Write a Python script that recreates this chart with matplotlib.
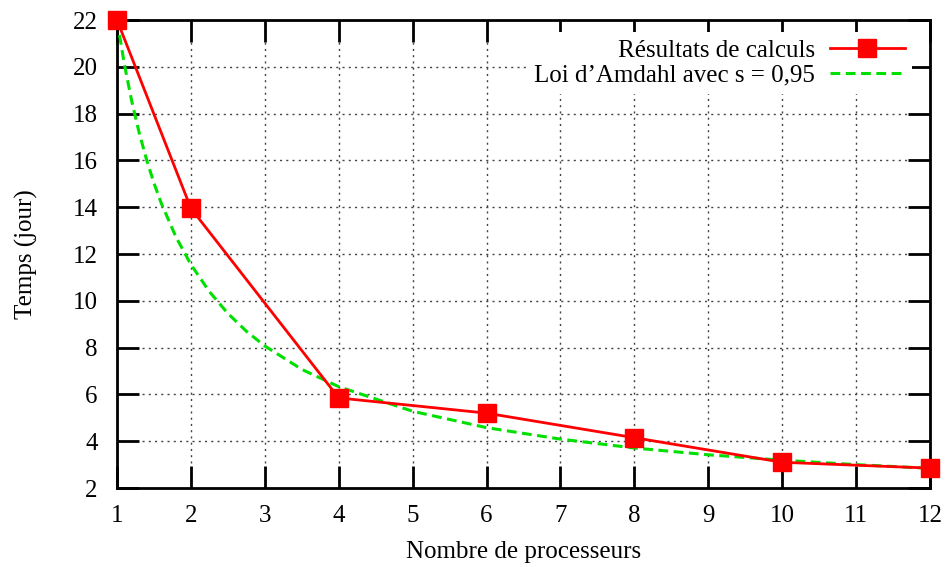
import matplotlib.pyplot as plt

plt.rcParams['font.family'] = ['Liberation Serif', 'DejaVu Serif']

# Résultats de calculs
procs = [1, 2, 4, 6, 8, 10, 12]
temps = [22.0, 13.95, 5.85, 5.2, 4.15, 3.1, 2.85]

# Loi d'Amdahl
n_amdahl = [1, 1.1, 1.2, 1.3, 1.4, 1.5, 1.6, 1.8, 2, 2.25, 2.5, 2.75, 3, 3.5,
            4, 5, 6, 7, 8, 9, 10, 11, 12]
t_amdahl = [22.0, 20.10, 18.52, 17.18, 16.03, 15.03, 14.16, 12.71, 11.55,
            10.39, 9.46, 8.70, 8.07, 7.07, 6.33, 5.28, 4.58, 4.09, 3.71,
            3.42, 3.19, 3.0, 2.84]

xticks = list(range(1, 13))
yticks = list(range(2, 23, 2))

fig = plt.figure(figsize=(9.46, 5.67), dpi=100)
ax = fig.add_axes([0.1237, 0.1393, 0.8594, 0.8254])

ax.plot(procs, temps, '-', color='#ff0000', lw=2, marker='s', ms=13,
        mec='#ff0000', mfc='#ff0000', label='Résultats de calculs', zorder=4,
        clip_on=False)
ax.plot(n_amdahl, t_amdahl, '--', color='#00e000', lw=2.2, dashes=(3.2, 1.8),
        label='Loi d\u2019Amdahl avec s = 0,95', zorder=3)

ax.set_xlim(1, 12)
ax.set_ylim(2, 22)
ax.set_xticks(xticks)
ax.set_yticks(yticks)
ax.tick_params(direction='in', length=16, width=2, labelsize=18,
               top=True, right=True, pad=14)
ax.tick_params(axis='x', pad=12)
for s in ax.spines.values():
    s.set_linewidth(2)

ax.grid(True, color='#444444', linestyle=(0, (1.5, 3)), lw=1)
ax.set_axisbelow(True)

ax.set_xlabel('Nombre de processeurs', fontsize=18, labelpad=10)
ax.set_ylabel('Temps (jour)', fontsize=18, labelpad=25)

leg = ax.legend(loc='upper right', bbox_to_anchor=(0.978, 0.975),
                markerfirst=False, fontsize=18, frameon=True, fancybox=False,
                handlelength=3.0, handletextpad=0.6, labelspacing=0.1,
                borderpad=0.3, borderaxespad=0)
leg.get_frame().set_edgecolor('none')
leg.get_frame().set_facecolor('white')
leg.get_frame().set_alpha(1)
for t in leg.get_texts():
    t.set_ha('right')

fig.savefig('out.png', dpi=100)
